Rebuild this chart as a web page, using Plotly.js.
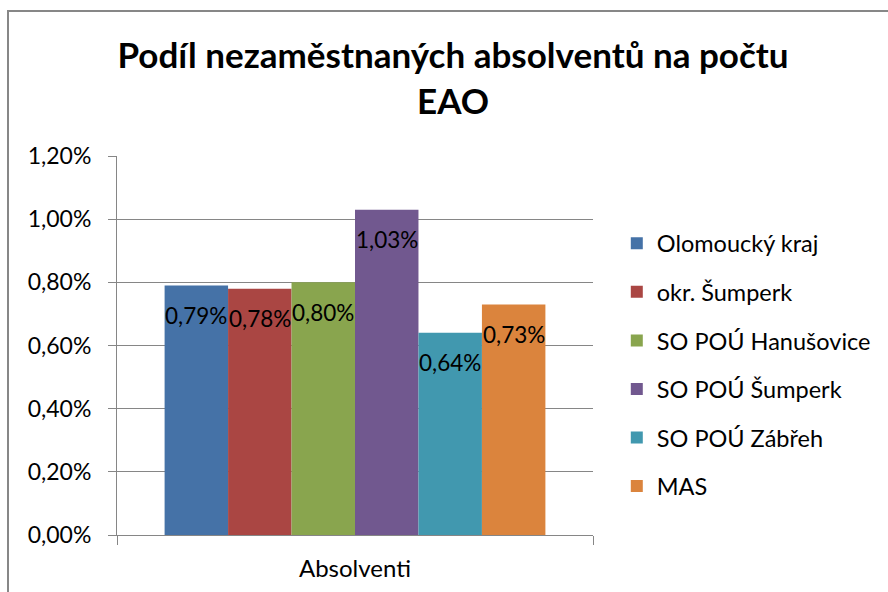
<!DOCTYPE html>
<html>
<head>
<meta charset="utf-8">
<script src="https://cdn.plot.ly/plotly-3.0.1.min.js"></script>
<style>html,body{margin:0;padding:0;background:#fff;}#chart{width:888px;height:592px;}</style>
</head>
<body>
<div id="chart"></div>
<script>
const categories = ["Absolventi"];
const seriesNames = ["Olomoucký kraj", "okr. Šumperk", "SO POÚ Hanušovice", "SO POÚ Šumperk", "SO POÚ Zábřeh", "MAS"];
const seriesValues = [0.0079, 0.0078, 0.0080, 0.0103, 0.0064, 0.0073];
const seriesColors = ["#4572A7", "#AA4643", "#89A54E", "#71588F", "#4198AF", "#DB843D"];
const yTickVals = [0, 0.002, 0.004, 0.006, 0.008, 0.010, 0.012];
const titleText = "Podíl nezaměstnaných absolventů na počtu<br>EAO";

const FONT = "Lato, 'Open Sans', sans-serif";
const bargap = 0.2;
const n = seriesNames.length;
const barW = (1 - bargap) / n;

const traces = seriesNames.map((name, i) => ({
  type: "bar",
  name: name,
  x: categories,
  y: [seriesValues[i]],
  marker: {color: seriesColors[i], line: {width: 0}},
  legendgroup: "g" + i,
  hoverinfo: "none"
}));

function fmt(v) { return (v * 100).toFixed(2).replace(".", ",") + "%"; }

const annotations = seriesValues.map((v, i) => ({
  xref: "x", yref: "y",
  x: (i - (n - 1) / 2) * barW,
  y: v,
  yshift: -30,
  text: fmt(v),
  showarrow: false,
  font: {family: FONT, size: 22.5, color: "#000"}
}));

const layout = {
  width: 888, height: 592,
  paper_bgcolor: "#fff", plot_bgcolor: "#fff",
  separators: ", ",
  margin: {l: 117, r: 295, t: 156, b: 57, autoexpand: false},
  barmode: "group",
  bargap: bargap,
  bargroupgap: 0,
  showlegend: true,
  title: {
    text: titleText,
    font: {family: FONT, size: 35, color: "#000", weight: "bold"},
    x: 453 / 888, xanchor: "center", xref: "container",
    y: 1 - 68 / 592, yanchor: "top", yref: "container"
  },
  xaxis: {
    type: "category",
    showline: true, linecolor: "#868686", linewidth: 1,
    ticks: "outside", tickson: "boundaries", ticklen: 9, tickcolor: "#868686",
    tickfont: {family: FONT, size: 24, color: "#000"},
    ticklabelstandoff: 12,
    showgrid: false, zeroline: false,
    automargin: false
  },
  yaxis: {
    range: [0, 0.012],
    tickvals: yTickVals,
    tickformat: ".2%",
    showline: true, linecolor: "#868686", linewidth: 1,
    ticks: "outside", ticklen: 8, tickcolor: "#868686",
    showgrid: true, gridcolor: "#868686", gridwidth: 1,
    zeroline: false,
    tickfont: {family: FONT, size: 23, color: "#000"},
    ticklabelstandoff: 12,
    automargin: false
  },
  legend: {
    x: 1.050, xanchor: "left",
    y: (535 - 365) / 379, yanchor: "middle",
    yref: "paper",
    traceorder: "grouped",
    tracegroupgap: 15,
    font: {family: FONT, size: 23.5, color: "#000"},
    bgcolor: "rgba(0,0,0,0)"
  },
  annotations: annotations,
  shapes: [{
    type: "rect", xref: "paper", yref: "paper",
    x0: (8 - 117) / 476, x1: (900 - 117) / 476,
    y0: (535 - 600) / 379, y1: (535 - 11) / 379,
    line: {color: "#878787", width: 2},
    fillcolor: "rgba(0,0,0,0)",
    layer: "below"
  }]
};

Plotly.newPlot("chart", traces, layout, {staticPlot: true, displayModeBar: false});
</script>
</body>
</html>
